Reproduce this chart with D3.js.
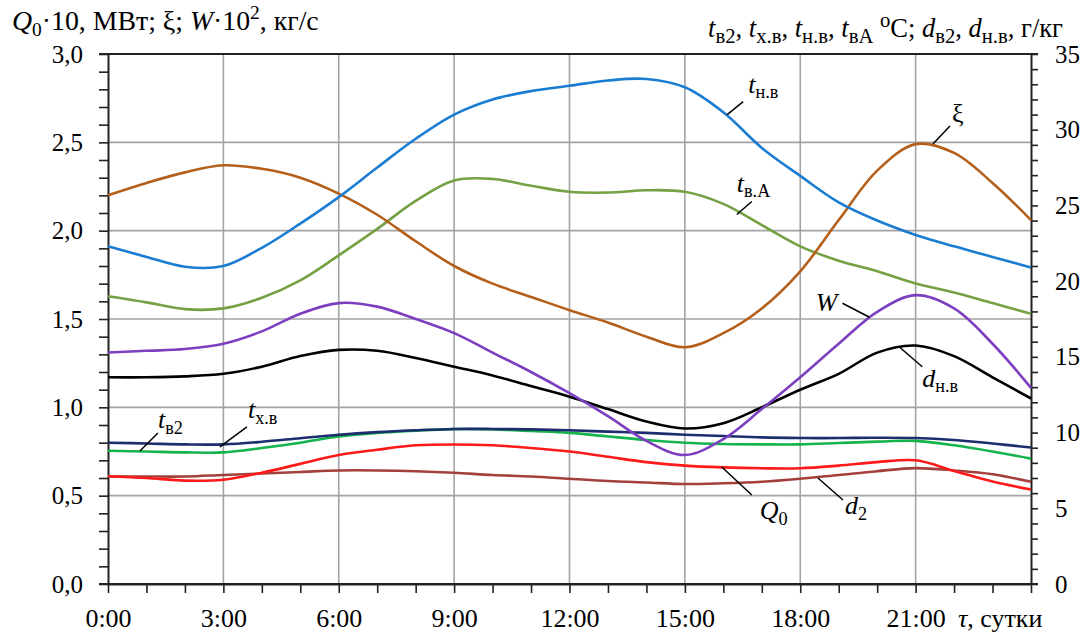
<!DOCTYPE html>
<html>
<head>
<meta charset="utf-8">
<script src="https://cdn.jsdelivr.net/npm/d3@7"></script>
<style>
  body { margin: 0; background: #fff; }
  svg { display: block; }
  text { font-family: "Liberation Serif", "Tinos", "Times New Roman", "DejaVu Serif", "Noto Serif", serif; fill: #000; }
</style>
</head>
<body>
<svg id="chart" width="1091" height="635"></svg>
<script>
// hours of the day, one value per hour
var hours = d3.range(0, 25);
var xTickLabels = ["0:00", "3:00", "6:00", "9:00", "12:00", "15:00", "18:00", "21:00"];

// left axis series
var xi = [2.20, 2.27, 2.33, 2.37, 2.35, 2.30, 2.21, 2.09, 1.94, 1.80, 1.70, 1.625, 1.55, 1.48, 1.40, 1.34, 1.42, 1.56, 1.77, 2.06, 2.34, 2.49, 2.44, 2.27, 2.06];
var W = [1.31, 1.32, 1.33, 1.36, 1.43, 1.53, 1.59, 1.57, 1.50, 1.42, 1.31, 1.20, 1.08, 0.95, 0.81, 0.73, 0.82, 0.99, 1.17, 1.36, 1.54, 1.635, 1.56, 1.36, 1.11];
var Q0 = [0.61, 0.60, 0.585, 0.59, 0.63, 0.68, 0.73, 0.76, 0.785, 0.79, 0.785, 0.77, 0.75, 0.72, 0.69, 0.67, 0.66, 0.655, 0.655, 0.67, 0.69, 0.70, 0.64, 0.58, 0.535];

// right axis series
var tnv = [22.3, 21.6, 20.95, 21.0, 22.2, 23.8, 25.55, 27.5, 29.4, 31.0, 32.0, 32.55, 32.9, 33.25, 33.35, 32.8, 31.15, 28.8, 26.95, 25.2, 24.0, 23.05, 22.3, 21.6, 20.9];
var tvA = [19.0, 18.6, 18.15, 18.2, 18.9, 20.05, 21.7, 23.45, 25.3, 26.65, 26.75, 26.3, 25.9, 25.85, 26.0, 25.9, 25.1, 23.7, 22.3, 21.35, 20.65, 19.85, 19.25, 18.55, 17.85];
var dnv = [13.65, 13.65, 13.71, 13.88, 14.35, 15.05, 15.46, 15.4, 14.93, 14.35, 13.77, 13.07, 12.37, 11.55, 10.73, 10.27, 10.62, 11.67, 12.83, 13.88, 15.28, 15.75, 15.05, 13.65, 12.25];
var txv = [9.33, 9.28, 9.22, 9.22, 9.39, 9.63, 9.86, 10.03, 10.15, 10.24, 10.24, 10.21, 10.15, 10.06, 9.98, 9.86, 9.77, 9.68, 9.64, 9.64, 9.66, 9.64, 9.51, 9.28, 9.01];
var tv2 = [8.80, 8.75, 8.69, 8.69, 8.98, 9.33, 9.74, 9.98, 10.13, 10.23, 10.21, 10.10, 9.98, 9.74, 9.51, 9.33, 9.25, 9.22, 9.22, 9.31, 9.40, 9.45, 9.16, 8.75, 8.28];
var d2 = [7.1, 7.1, 7.1, 7.2, 7.3, 7.4, 7.5, 7.5, 7.45, 7.35, 7.2, 7.1, 6.95, 6.8, 6.7, 6.6, 6.65, 6.75, 6.95, 7.2, 7.45, 7.65, 7.5, 7.25, 6.75];

var svg = d3.select("#chart");
var x = d3.scaleLinear().domain([0, 24]).range([108, 1031]);
var yL = d3.scaleLinear().domain([0, 3]).range([584, 54]);
var yR = d3.scaleLinear().domain([0, 35]).range([584, 54]);

var comma = function(v) { return d3.format(".1f")(v).replace(".", ","); };

// text with italic letters, subscripts and superscripts
function rich(g, px, py, parts, size, anchor, subScale) {
  var k = subScale || 0.7;
  var t = g.append("text").attr("x", px).attr("y", py)
    .attr("text-anchor", anchor || "start").style("font-size", size + "px");
  var shift = 0;
  parts.forEach(function(p) {
    var kind = p[1] || "";
    var s = kind.indexOf("sub") >= 0 ? size * 0.22 : kind.indexOf("sup") >= 0 ? -size * 0.38 : 0;
    var ts = t.append("tspan").text(p[0]).attr("dy", s - shift);
    shift = s;
    if (kind.indexOf("i") === 0) ts.style("font-style", "italic");
    if (s !== 0) ts.style("font-size", (size * k) + "px");
  });
  return t;
}

// grid
svg.append("g").selectAll("line").data([0.5, 1, 1.5, 2, 2.5]).enter().append("line")
  .attr("x1", x(0)).attr("x2", x(24)).attr("y1", d => yL(d)).attr("y2", d => yL(d))
  .attr("stroke", "#a3a3a3").attr("stroke-width", 1.6);
svg.append("g").selectAll("line").data([3, 6, 9, 12, 15, 18, 21]).enter().append("line")
  .attr("x1", d => x(d)).attr("x2", d => x(d)).attr("y1", yL(0)).attr("y2", yL(3))
  .attr("stroke", "#a3a3a3").attr("stroke-width", 1.6);

// axes
function styleAxis(g) {
  g.attr("font-family", null).attr("font-size", null);
  g.selectAll("path.domain").attr("stroke", "#222").attr("stroke-width", 2);
  g.selectAll(".tick line").attr("stroke", "#222").attr("stroke-width", 1.6);
  g.selectAll("text").style("font-size", "25px").attr("fill", "#000");
}

var axL = svg.append("g").attr("transform", "translate(" + x(0) + ",0)")
  .call(d3.axisLeft(yL).tickValues(d3.range(0, 31).map(i => i / 10)).tickSize(9).tickSizeOuter(0).tickPadding(16)
    .tickFormat(d => (Math.round(d * 10) % 5 === 0 ? comma(d) : "")));
styleAxis(axL);

var axR = svg.append("g").attr("transform", "translate(" + x(24) + ",0)")
  .call(d3.axisRight(yR).tickValues(d3.range(0, 36)).tickSize(7).tickSizeOuter(0).tickPadding(17)
    .tickFormat(d => (d % 5 === 0 ? d : "")));
styleAxis(axR);

var axB = svg.append("g").attr("transform", "translate(0," + yL(0) + ")")
  .call(d3.axisBottom(x).tickValues(hours).tickSize(9).tickSizeOuter(0)
    .tickFormat(d => (d % 3 === 0 && d < 24 ? xTickLabels[d / 3] : "")));
styleAxis(axB);
axB.selectAll("text").attr("y", 43).attr("dy", 0).style("font-size", "26px");

// frame lines at top and bottom
svg.append("line").attr("x1", x(0) - 9).attr("x2", x(24) + 7).attr("y1", yL(3)).attr("y2", yL(3))
  .attr("stroke", "#222").attr("stroke-width", 2);
svg.append("line").attr("x1", x(0) - 9).attr("x2", x(24) + 7).attr("y1", yL(0)).attr("y2", yL(0))
  .attr("stroke", "#222").attr("stroke-width", 2);

// curves
var series = [
  { v: d2, y: yR, c: "#a3403c" },
  { v: Q0, y: yL, c: "#ff1a1a" },
  { v: tv2, y: yR, c: "#14b34c" },
  { v: txv, y: yR, c: "#1c2e6e" },
  { v: dnv, y: yR, c: "#000000" },
  { v: W, y: yL, c: "#7d3fc0" },
  { v: tvA, y: yR, c: "#76a044" },
  { v: xi, y: yL, c: "#b45f1a" },
  { v: tnv, y: yR, c: "#1a7dd1" }
];
series.forEach(function(s) {
  var line = d3.line().x((d, i) => x(hours[i])).y(d => s.y(d)).curve(d3.curveCatmullRom.alpha(0.5));
  svg.append("path").attr("d", line(s.v)).attr("fill", "none")
    .attr("stroke", s.c).attr("stroke-width", 2.6);
});

// curve labels: pointer starts on the curve, text beside it
var labels = [
  { p: [["t", "i"], ["н.в", "sub"]], h: 16.1, y: yR, v: 31.0, lx: 16, ly: -13, tx: 21, ty: -22 },
  { p: [["ξ"]], h: 21.45, y: yL, v: 2.49, lx: 17, ly: -18, tx: 19, ty: -22 },
  { p: [["t", "i"], ["в.А", "sub"]], h: 16.35, y: yR, v: 24.4, lx: 15, ly: -13, tx: 0, ty: -23 },
  { p: [["W", "i"]], h: 19.8, y: yL, v: 1.51, lx: -27, ly: -14, tx: -32, ty: -6, a: "end" },
  { p: [["d", "i"], ["н.в", "sub"]], h: 20.6, y: yR, v: 15.6, lx: 22, ly: 19, tx: 22, ty: 39 },
  { p: [["t", "i"], ["в2", "sub"]], h: 0.83, y: yR, v: 8.78, lx: 18, ly: -18, tx: 18, ty: -23 },
  { p: [["t", "i"], ["х.в", "sub"]], h: 2.91, y: yR, v: 9.05, lx: 27, ly: -20, tx: 28, ty: -29 },
  { p: [["Q", "i"], ["0", "sub"]], h: 15.96, y: yL, v: 0.662, lx: 30, ly: 28, tx: 38, ty: 52 },
  { p: [["d", "i"], ["2", "sub"]], h: 18.46, y: yR, v: 7.0, lx: 25, ly: 22, tx: 27, ty: 36 }
];
labels.forEach(function(l) {
  var px = x(l.h), py = l.y(l.v);
  svg.append("line").attr("x1", px).attr("y1", py).attr("x2", px + l.lx).attr("y2", py + l.ly)
    .attr("stroke", "#000").attr("stroke-width", 1.5);
  rich(svg, px + l.tx, py + l.ty, l.p, 26, l.a);
});

// axis titles
rich(svg, 12, 30, [["Q", "i"], ["0", "sub"], ["·10, МВт; ξ; "], ["W", "i"], ["·10"], ["2", "sup"], [", кг/с"]], 27.8);
rich(svg, 1063, 37, [["t", "i"], ["в2", "sub"], [", "], ["t", "i"], ["х.в", "sub"], [", "], ["t", "i"], ["н.в", "sub"], [", "],
  ["t", "i"], ["вА", "sub"], [" "], ["o", "sup"], ["C; "], ["d", "i"], ["в2", "sub"], [", "], ["d", "i"], ["н.в", "sub"], [", г/кг"]], 26.5, "end", 0.78);
rich(svg, 958, 627, [["τ", "i"], [", сутки"]], 26);
</script>
</body>
</html>
